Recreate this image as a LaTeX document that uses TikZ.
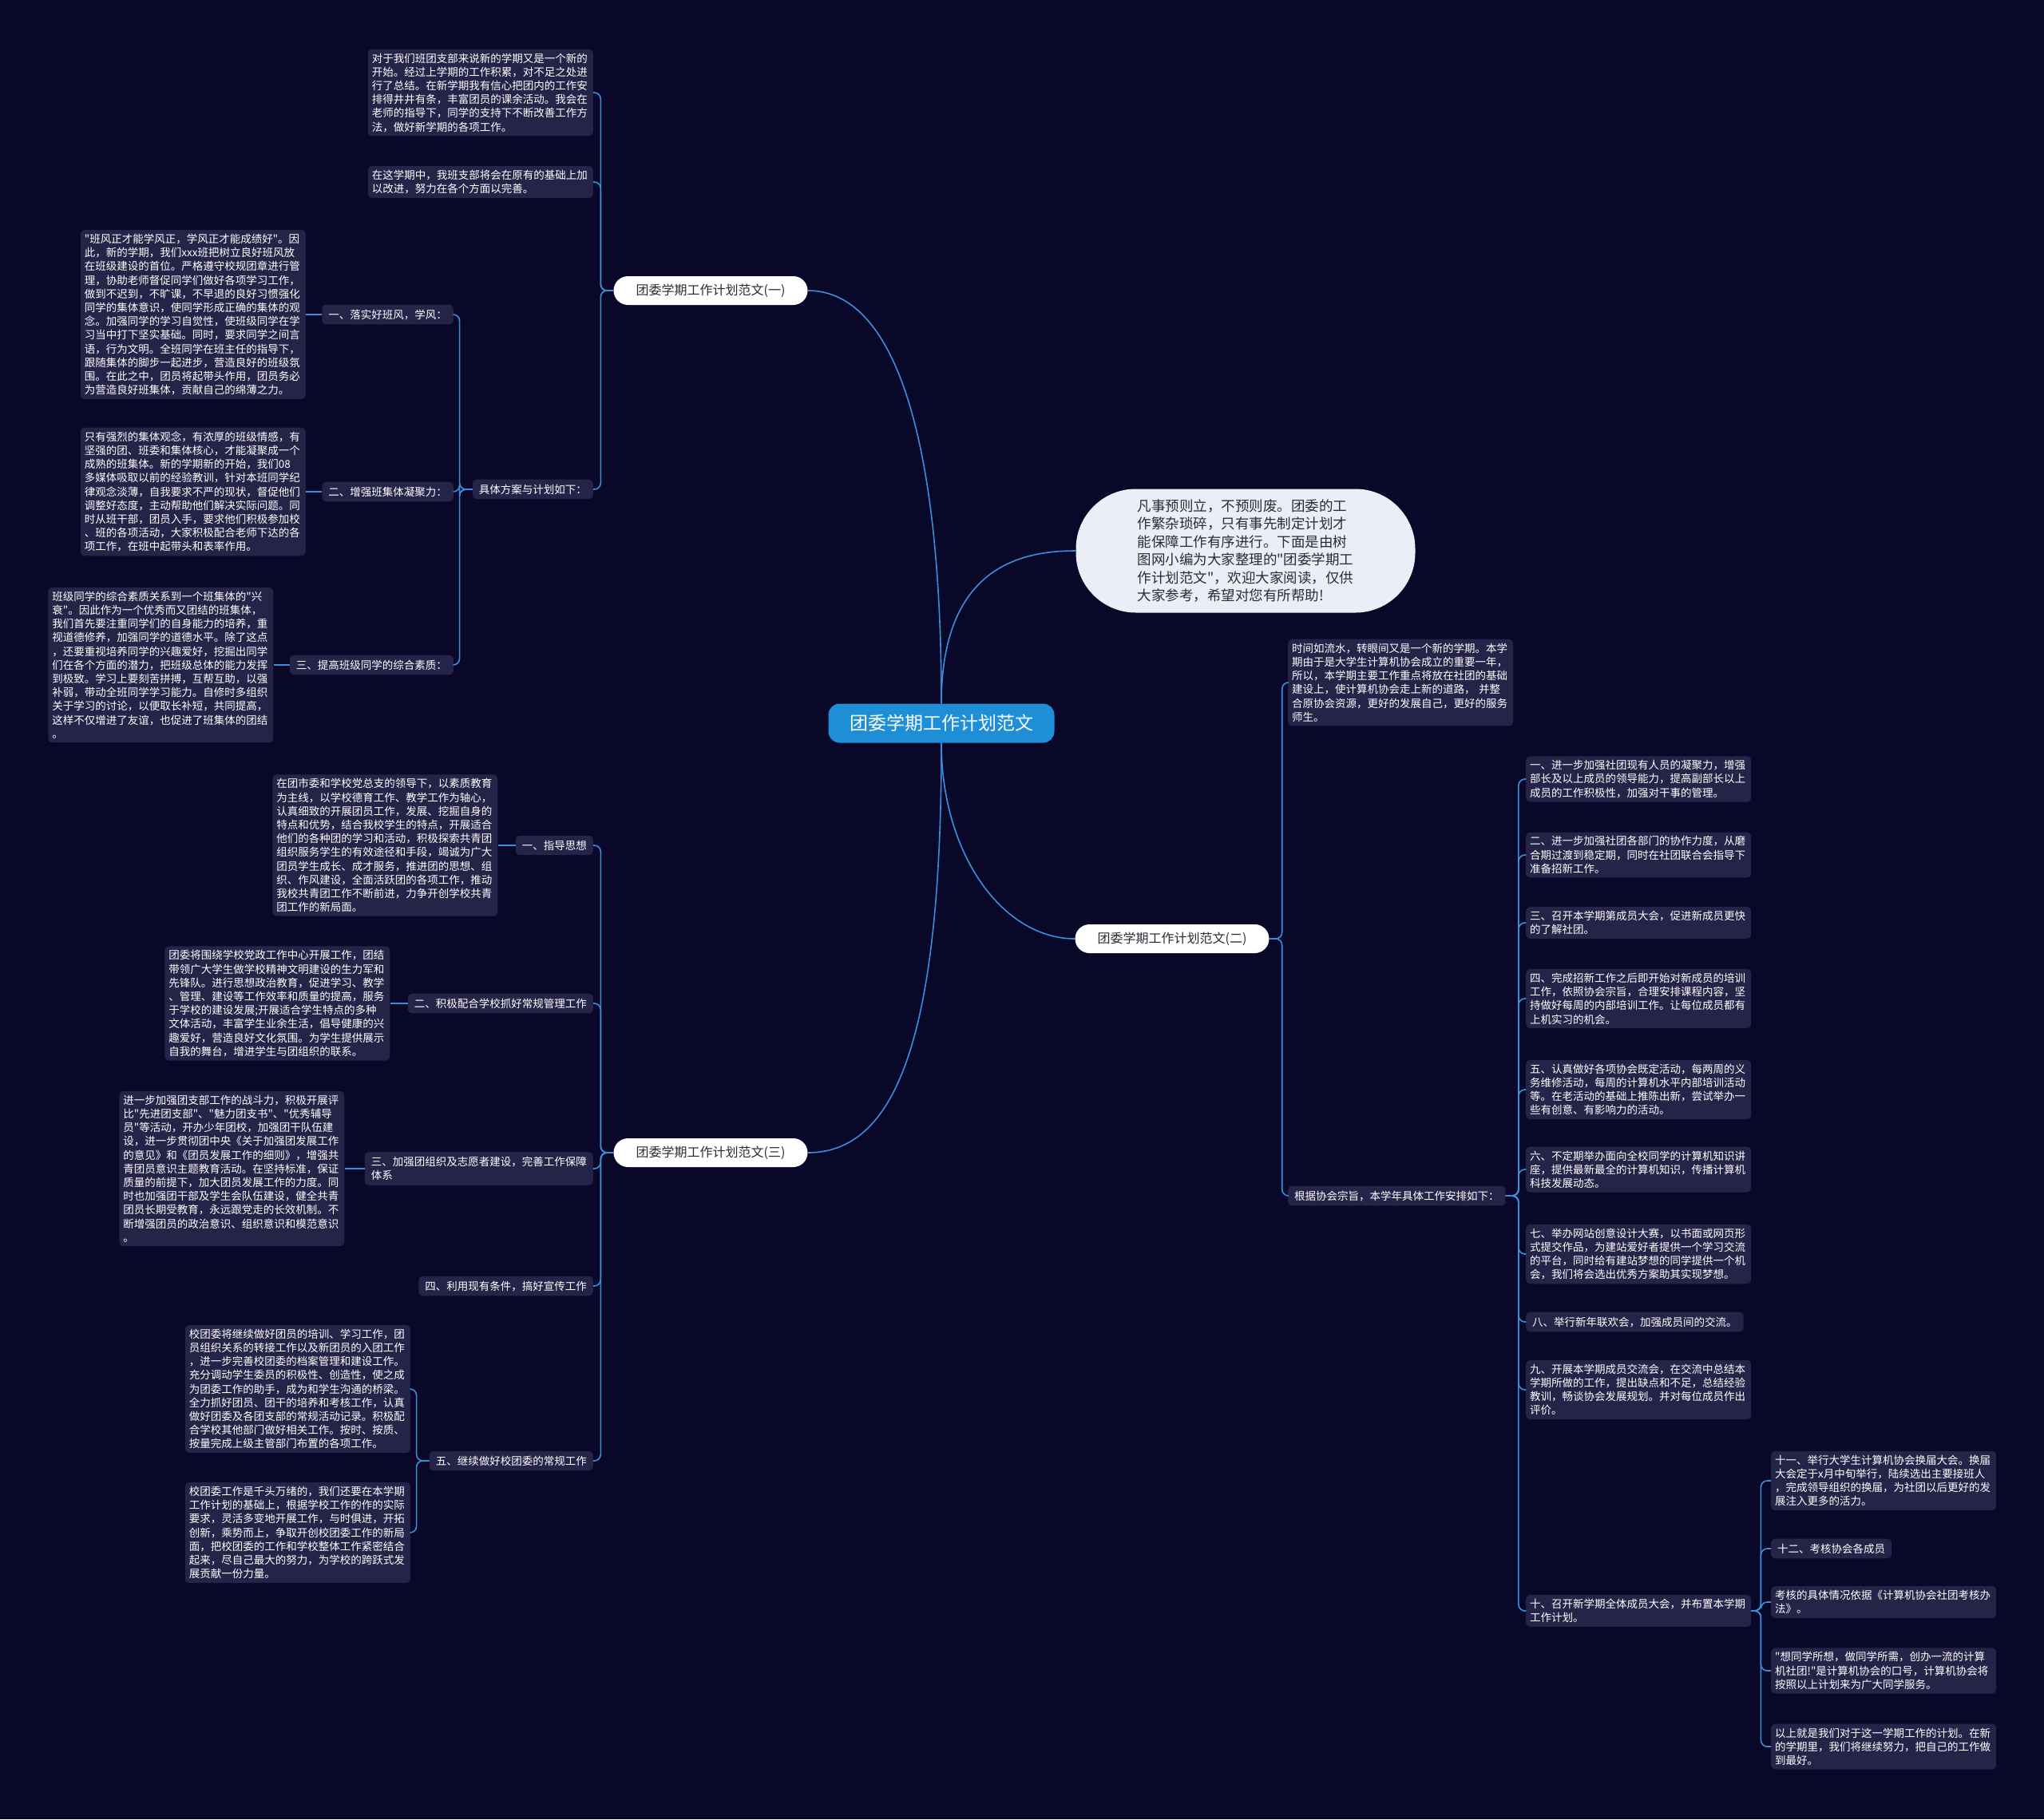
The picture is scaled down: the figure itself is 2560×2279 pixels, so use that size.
\documentclass[tikz,border=0pt]{standalone}
\usepackage{fontspec}
\newfontfamily\cjk{Noto Sans CJK SC}
\usepackage{tikz}
\usetikzlibrary{positioning}
\definecolor{bgnavy}{HTML}{0A0828}
\definecolor{cardbg}{HTML}{262349}
\definecolor{linkblue}{HTML}{3A8EDB}
\definecolor{rootblue}{HTML}{1E8FD6}
\definecolor{bubblebg}{HTML}{ECEEF7}
\definecolor{inkdark}{HTML}{2B2B33}

\begin{document}
\begin{tikzpicture}[x=1pt, y=-1pt,
    root/.style={fill=rootblue, text=white, rounded corners=14pt, minimum width=283pt, minimum height=49pt, font=\cjk\fontsize{23}{28}\selectfont},
    branch/.style={fill=white, text=inkdark, rounded corners=18pt, minimum width=243pt, minimum height=36pt, font=\cjk\fontsize{16}{20}\selectfont},
    bubble/.style={fill=bubblebg, text=inkdark, rounded corners=75pt, minimum width=425pt, minimum height=155pt, align=left, font=\cjk\fontsize{17.5}{22.5}\selectfont},
    tag/.style={fill=cardbg, text=white, rounded corners=5pt, inner xsep=8pt, inner ysep=6pt, align=left, font=\cjk\fontsize{13.5}{17.2}\selectfont},
    card/.style={tag, text width=272pt, inner xsep=5pt, inner ysep=5pt},
    link/.style={draw=linkblue, line width=1.6pt, rounded corners=8pt}]

    \fill[bgnavy] (0,0) rectangle (2560,2279);

    \node[root] (root) at (1179,906) {团委学期工作计划范文};
    \node[branch] (b1) at (890,364) {团委学期工作计划范文(一)};
    \node[branch] (b2) at (1468,1176) {团委学期工作计划范文(二)};
    \node[branch] (b3) at (890,1444) {团委学期工作计划范文(三)};
    \node[bubble] (intro) at (1560,690) {凡事预则立，不预则废。团委的工\\作繁杂琐碎，只有事先制定计划才\\能保障工作有序进行。下面是由树\\图网小编为大家整理的"团委学期工\\作计划范文"，欢迎大家阅读，仅供\\大家参考，希望对您有所帮助!};

    % branch one
    \node[card, anchor=east] (t1a) at (743,116) {对于我们班团支部来说新的学期又是一个新的\\开始。经过上学期的工作积累，对不足之处进\\行了总结。在新学期我有信心把团内的工作安\\排得井井有条，丰富团员的课余活动。我会在\\老师的指导下，同学的支持下不断改善工作方\\法，做好新学期的各项工作。};
    \node[card, anchor=east] (t1b) at (743,228) {在这学期中，我班支部将会在原有的基础上加\\以改进，努力在各个方面以完善。};
    \node[tag, anchor=east] (plan) at (743,613) {具体方案与计划如下：};
    \node[tag, anchor=east] (s1) at (568,394) {一、落实好班风，学风：};
    \node[tag, anchor=east] (s2) at (568,616) {二、增强班集体凝聚力：};
    \node[tag, anchor=east] (s3) at (568,833) {三、提高班级同学的综合素质：};
    \node[card, left=20pt of s1] (s1txt) {"班风正才能学风正，学风正才能成绩好"。因\\此，新的学期，我们xxx班把树立良好班风放\\在班级建设的首位。严格遵守校规团章进行管\\理，协助老师督促同学们做好各项学习工作，\\做到不迟到，不旷课，不早退的良好习惯强化\\同学的集体意识，使同学形成正确的集体的观\\念。加强同学的学习自觉性，使班级同学在学\\习当中打下坚实基础。同时，要求同学之间言\\语，行为文明。全班同学在班主任的指导下，\\跟随集体的脚步一起进步，营造良好的班级氛\\围。在此之中，团员将起带头作用，团员务必\\为营造良好班集体，贡献自己的绵薄之力。};
    \node[card, left=20pt of s2] (s2txt) {只有强烈的集体观念，有浓厚的班级情感，有\\坚强的团、班委和集体核心，才能凝聚成一个\\成熟的班集体。新的学期新的开始，我们08\\多媒体吸取以前的经验教训，针对本班同学纪\\律观念淡薄，自我要求不严的现状，督促他们\\调整好态度，主动帮助他们解决实际问题。同\\时从班干部，团员入手，要求他们积极参加校\\、班的各项活动，大家积极配合老师下达的各\\项工作，在班中起带头和表率作用。};
    \node[card, left=20pt of s3] (s3txt) {班级同学的综合素质关系到一个班集体的"兴\\衰"。因此作为一个优秀而又团结的班集体，\\我们首先要注重同学们的自身能力的培养，重\\视道德修养，加强同学的道德水平。除了这点\\，还要重视培养同学的兴趣爱好，挖掘出同学\\们在各个方面的潜力，把班级总体的能力发挥\\到极致。学习上要刻苦拼搏，互帮互助，以强\\补弱，带动全班同学学习能力。自修时多组织\\关于学习的讨论，以便取长补短，共同提高，\\这样不仅增进了友谊，也促进了班集体的团结\\。};

    % branch three
    \node[tag, anchor=east] (g1) at (743,1059) {一、指导思想};
    \node[tag, anchor=east] (g2) at (743,1257) {二、积极配合学校抓好常规管理工作};
    \node[tag, anchor=east] (g3) at (743,1464) {三、加强团组织及志愿者建设，完善工作保障\\体系};
    \node[tag, anchor=east] (g4) at (743,1611) {四、利用现有条件，搞好宣传工作};
    \node[tag, anchor=east] (g5) at (743,1830) {五、继续做好校团委的常规工作};
    \node[card, left=22pt of g1] (g1txt) {在团市委和学校党总支的领导下，以素质教育\\为主线，以学校德育工作、教学工作为轴心，\\认真细致的开展团员工作，发展、挖掘自身的\\特点和优势，结合我校学生的特点，开展适合\\他们的各种团的学习和活动，积极探索共青团\\组织服务学生的有效途径和手段，竭诚为广大\\团员学生成长、成才服务，推进团的思想、组\\织、作风建设，全面活跃团的各项工作，推动\\我校共青团工作不断前进，力争开创学校共青\\团工作的新局面。};
    \node[card, left=22pt of g2] (g2txt) {团委将围绕学校党政工作中心开展工作，团结\\带领广大学生做学校精神文明建设的生力军和\\先锋队。进行思想政治教育，促进学习、教学\\、管理、建设等工作效率和质量的提高，服务\\于学校的建设发展;开展适合学生特点的多种\\文体活动，丰富学生业余生活，倡导健康的兴\\趣爱好，营造良好文化氛围。为学生提供展示\\自我的舞台，增进学生与团组织的联系。};
    \node[card, left=25pt of g3] (g3txt) {进一步加强团支部工作的战斗力，积极开展评\\比"先进团支部"、"魅力团支书"、"优秀辅导\\员"等活动，开办少年团校，加强团干队伍建\\设，进一步贯彻团中央《关于加强团发展工作\\的意见》和《团员发展工作的细则》，增强共\\青团员意识主题教育活动。在坚持标准，保证\\质量的前提下，加大团员发展工作的力度。同\\时也加强团干部及学生会队伍建设，健全共青\\团员长期受教育，永远跟党走的长效机制。不\\断增强团员的政治意识、组织意识和模范意识\\。};
    \node[card, anchor=east] (g5a) at (514,1740) {校团委将继续做好团员的培训、学习工作，团\\员组织关系的转接工作以及新团员的入团工作\\，进一步完善校团委的档案管理和建设工作。\\充分调动学生委员的积极性、创造性，使之成\\为团委工作的助手，成为和学生沟通的桥梁。\\全力抓好团员、团干的培养和考核工作，认真\\做好团委及各团支部的常规活动记录。积极配\\合学校其他部门做好相关工作。按时、按质、\\按量完成上级主管部门布置的各项工作。};
    \node[card, anchor=east] (g5b) at (514,1920) {校团委工作是千头万绪的，我们还要在本学期\\工作计划的基础上，根据学校工作的作的实际\\要求，灵活多变地开展工作，与时俱进，开拓\\创新，乘势而上，争取开创校团委工作的新局\\面，把校团委的工作和学校整体工作紧密结合\\起来，尽自己最大的努力，为学校的跨跃式发\\展贡献一份力量。};

    % branch two
    \node[card, anchor=west] (r0) at (1613,855) {时间如流水，转眼间又是一个新的学期。本学\\期由于是大学生计算机协会成立的重要一年，\\所以，本学期主要工作重点将放在社团的基础\\建设上，使计算机协会走上新的道路， 并整\\合原协会资源，更好的发展自己，更好的服务\\师生。};
    \node[tag, anchor=west] (r1) at (1613,1498) {根据协会宗旨，本学年具体工作安排如下：};
    \node[card, anchor=west] (n1) at (1911,976) {一、进一步加强社团现有人员的凝聚力，增强\\部长及以上成员的领导能力，提高副部长以上\\成员的工作积极性，加强对干事的管理。};
    \node[card, anchor=west] (n2) at (1911,1071) {二、进一步加强社团各部门的协作力度，从磨\\合期过渡到稳定期，同时在社团联合会指导下\\准备招新工作。};
    \node[card, anchor=west] (n3) at (1911,1156) {三、召开本学期第成员大会，促进新成员更快\\的了解社团。};
    \node[card, anchor=west] (n4) at (1911,1251) {四、完成招新工作之后即开始对新成员的培训\\工作，依照协会宗旨，合理安排课程内容，坚\\持做好每周的内部培训工作。让每位成员都有\\上机实习的机会。};
    \node[card, anchor=west] (n5) at (1911,1365) {五、认真做好各项协会既定活动，每两周的义\\务维修活动，每周的计算机水平内部培训活动\\等。在老活动的基础上推陈出新，尝试举办一\\些有创意、有影响力的活动。};
    \node[card, anchor=west] (n6) at (1911,1465) {六、不定期举办面向全校同学的计算机知识讲\\座，提供最新最全的计算机知识，传播计算机\\科技发展动态。};
    \node[card, anchor=west] (n7) at (1911,1571) {七、举办网站创意设计大赛，以书面或网页形\\式提交作品，为建站爱好者提供一个学习交流\\的平台，同时给有建站梦想的同学提供一个机\\会，我们将会选出优秀方案助其实现梦想。};
    \node[tag, anchor=west] (n8) at (1911,1656) {八、举行新年联欢会，加强成员间的交流。};
    \node[card, anchor=west] (n9) at (1911,1741) {九、开展本学期成员交流会，在交流中总结本\\学期所做的工作，提出缺点和不足，总结经验\\教训，畅谈协会发展规划。并对每位成员作出\\评价。};
    \node[card, anchor=west] (n10) at (1911,2018) {十、召开新学期全体成员大会，并布置本学期\\工作计划。};
    \node[card, anchor=west] (m1) at (2218,1855) {十一、举行大学生计算机协会换届大会。换届\\大会定于x月中旬举行，陆续选出主要接班人\\，完成领导组织的换届，为社团以后更好的发\\展注入更多的活力。};
    \node[tag, anchor=west] (m2) at (2218,1940) {十二、考核协会各成员};
    \node[card, anchor=west] (m3) at (2218,2007) {考核的具体情况依据《计算机协会社团考核办\\法》。};
    \node[card, anchor=west] (m4) at (2218,2093) {"想同学所想，做同学所需，创办一流的计算\\机社团!"是计算机协会的口号，计算机协会将\\按照以上计划来为广大同学服务。};
    \node[card, anchor=west] (m5) at (2218,2188) {以上就是我们对于这一学期工作的计划。在新\\的学期里，我们将继续努力，把自己的工作做\\到最好。};

    \draw[link] (root.north) .. controls +(0,-330) and +(110,0) .. (b1.east);
    \draw[link] (root.north) .. controls +(0,-170) and +(-70,0) .. (intro.west);
    \draw[link] (root.south) .. controls +(0,140) and +(-90,0) .. (b2.west);
    \draw[link] (root.south) .. controls +(0,370) and +(110,0) .. (b3.east);

    \foreach \c in {t1a,t1b,plan} \draw[link] (b1.west) -- ++(-16,0) |- (\c.east);
    \foreach \c in {s1,s2,s3} \draw[link] (plan.west) -- ++(-16,0) |- (\c.east);
    \foreach \c in {g1,g2,g3,g4,g5} \draw[link] (b3.west) -- ++(-16,0) |- (\c.east);
    \foreach \c in {g5a,g5b} \draw[link] (g5.west) -- ++(-16,0) |- (\c.east);
    \foreach \c in {r0,r1} \draw[link] (b2.east) -- ++(16,0) |- (\c.west);
    \foreach \c in {n1,n2,n3,n4,n5,n6,n7,n8,n9,n10} \draw[link] (r1.east) -- ++(16,0) |- (\c.west);
    \foreach \c in {m1,m2,m3,m4,m5} \draw[link] (n10.east) -- ++(12,0) |- (\c.west);
    \foreach \c in {s1,s2,s3,g1,g2,g3} \draw[link] (\c) -- (\c txt);
\end{tikzpicture}
\end{document}
